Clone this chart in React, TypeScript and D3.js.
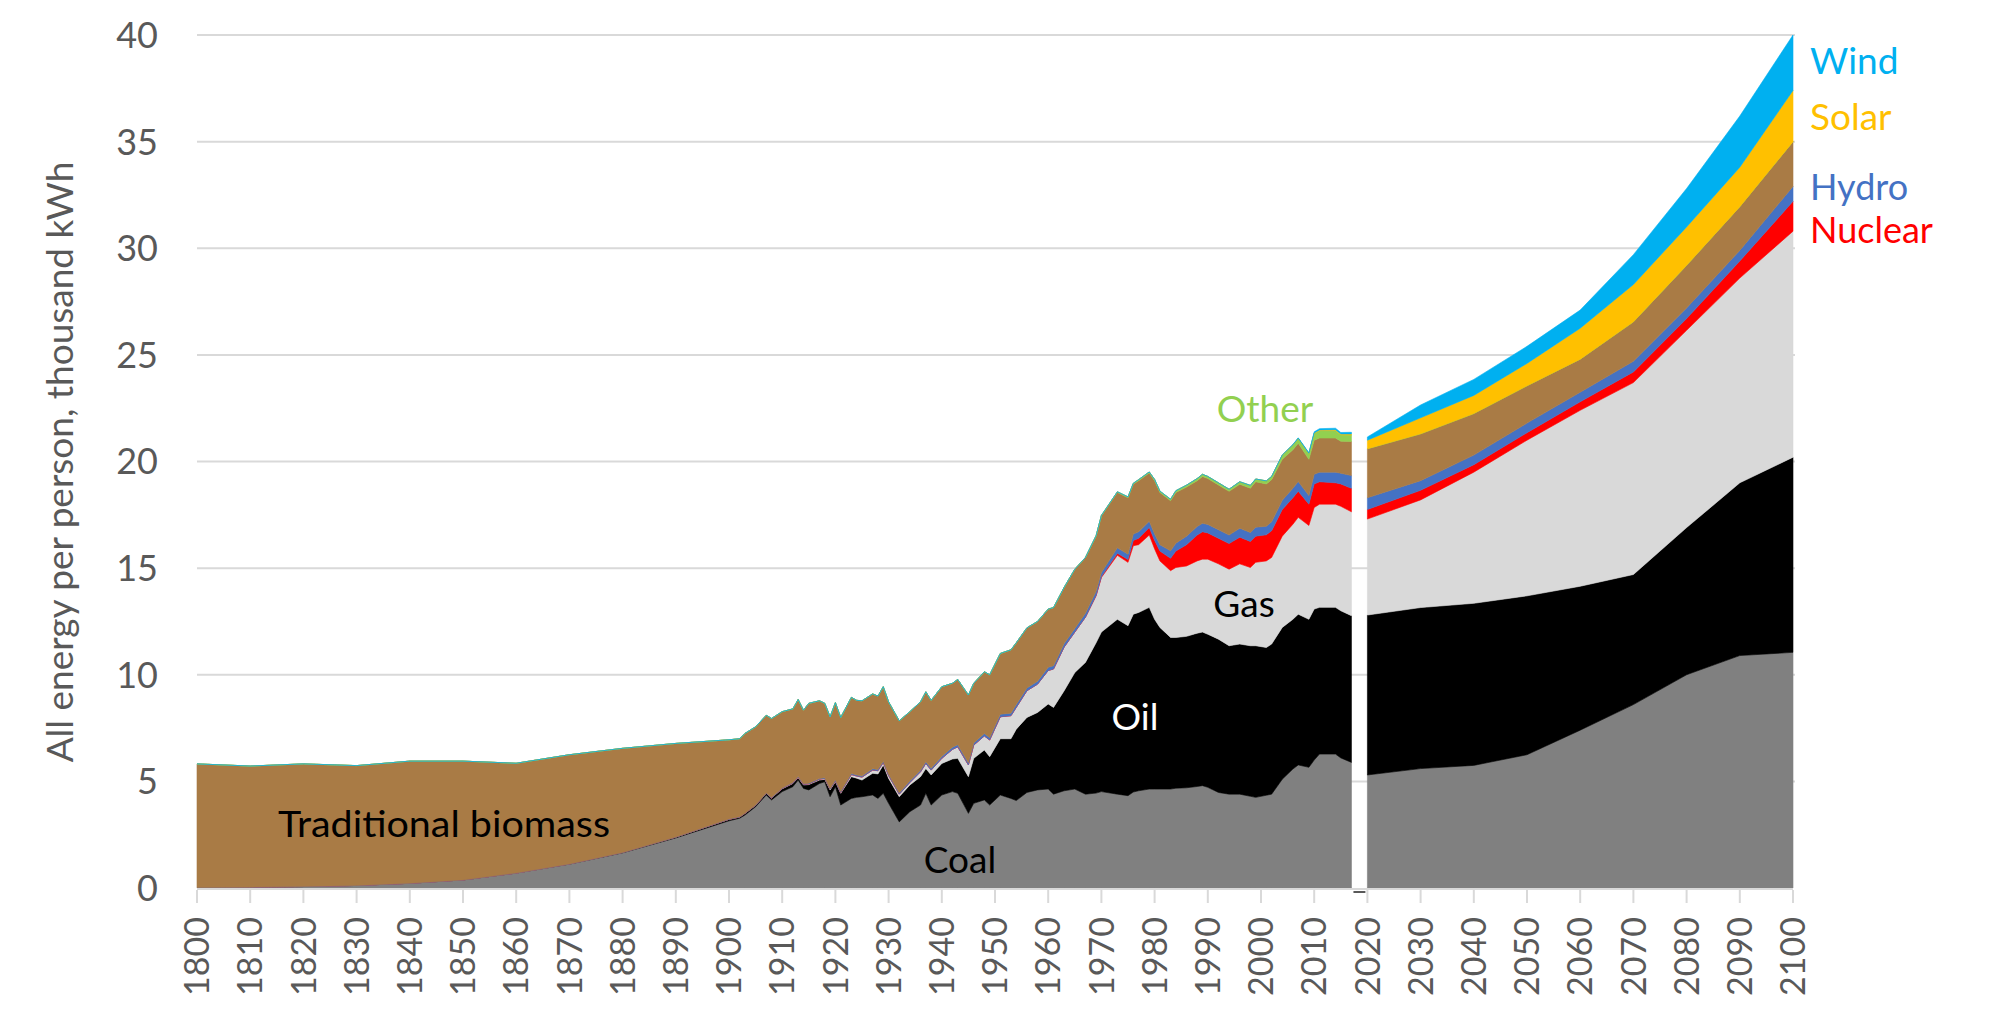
import React from "react";
import * as d3 from "d3";

// ---------- Historic data (thousand kWh per person) ----------
const histYears = [
  1800, 1810, 1820, 1830, 1840, 1850, 1860, 1870, 1880, 1890,
  1900, 1902, 1903, 1905, 1907, 1908, 1910, 1912, 1913, 1914,
  1915, 1917, 1918, 1919, 1920, 1921, 1923, 1924, 1925, 1927,
  1928, 1929, 1930, 1932, 1934, 1936, 1937, 1938, 1940, 1942,
  1943, 1945, 1946, 1948, 1949, 1951, 1953, 1954, 1956, 1958,
  1960, 1961, 1963, 1965, 1967, 1969, 1970, 1973, 1975, 1976,
  1977, 1979, 1980, 1981, 1983, 1984, 1986, 1988, 1989, 1990,
  1992, 1994, 1996, 1998, 1999, 2001, 2002, 2004, 2006, 2007,
  2009, 2010, 2011, 2014, 2015, 2017,
];
const histCoal = [
  0.02, 0.04, 0.07, 0.12, 0.22, 0.38, 0.7, 1.12, 1.65, 2.35,
  3.15, 3.27, 3.42, 3.81, 4.36, 4.13, 4.52, 4.75, 5.06, 4.67,
  4.6, 4.9, 4.98, 4.28, 4.75, 3.89, 4.2, 4.25, 4.28, 4.36,
  4.2, 4.44, 3.97, 3.1, 3.58, 3.89, 4.44, 3.89, 4.36, 4.52,
  4.44, 3.5, 3.97, 4.13, 3.89, 4.36, 4.2, 4.1, 4.48, 4.6,
  4.64, 4.4, 4.56, 4.64, 4.4, 4.45, 4.52, 4.4, 4.33, 4.5,
  4.56, 4.64, 4.64, 4.64, 4.64, 4.68, 4.7, 4.76, 4.8, 4.72,
  4.48, 4.4, 4.4, 4.3, 4.25, 4.35, 4.4, 5.1, 5.58, 5.77,
  5.66, 6.0, 6.28, 6.28, 6.1, 5.89,
];
const histOil = [
  0, 0, 0, 0, 0, 0, 0, 0.01, 0.02, 0.04,
  0.07, 0.06, 0.08, 0.07, 0.08, 0.09, 0.13, 0.15, 0.11, 0.16,
  0.25, 0.16, 0.12, 0.32, 0.23, 0.55, 1.02, 0.9, 0.78, 1.02,
  1.15, 1.33, 1.17, 1.18, 1.25, 1.33, 1.16, 1.41, 1.48, 1.53,
  1.64, 1.72, 2.11, 2.34, 2.27, 2.64, 2.8, 3.35, 3.52, 3.63,
  3.99, 4.07, 4.69, 5.46, 6.18, 7.05, 7.48, 8.2, 7.97, 8.34,
  8.36, 8.52, 7.96, 7.58, 7.11, 7.07, 7.1, 7.19, 7.2, 7.18,
  7.19, 6.96, 7.04, 7.06, 7.11, 6.93, 7.04, 7.12, 7.02, 7.07,
  6.94, 7.08, 6.88, 6.88, 6.9, 6.88,
];
const histGas = [
  0, 0, 0, 0, 0, 0, 0, 0, 0, 0,
  0, 0, 0, 0, 0, 0, 0.02, 0.02, 0.03, 0.03,
  0.03, 0.04, 0.04, 0.04, 0.04, 0.04, 0.1, 0.1, 0.14, 0.15,
  0.15, 0.11, 0.13, 0.12, 0.12, 0.23, 0.24, 0.23, 0.24, 0.45,
  0.54, 0.55, 0.62, 0.66, 0.78, 1.03, 1.08, 1.02, 1.25, 1.33,
  1.57, 1.8, 2.05, 1.9, 2.12, 2.2, 2.56, 3.0, 2.97, 3.21,
  3.18, 3.39, 3.3, 3.12, 3.13, 3.28, 3.3, 3.39, 3.42, 3.52,
  3.53, 3.59, 3.76, 3.67, 3.91, 4.06, 4.06, 4.28, 4.46, 4.54,
  4.4, 4.76, 4.84, 4.84, 4.9, 4.87,
];
const histNuclear = [
  0, 0, 0, 0, 0, 0, 0, 0, 0, 0,
  0, 0, 0, 0, 0, 0, 0, 0, 0, 0,
  0, 0, 0, 0, 0, 0, 0, 0, 0, 0,
  0, 0, 0, 0, 0, 0, 0, 0, 0, 0,
  0, 0, 0, 0, 0, 0, 0, 0, 0, 0,
  0, 0, 0, 0, 0, 0.02, 0.04, 0.1, 0.13, 0.25,
  0.3, 0.35, 0.4, 0.46, 0.58, 0.77, 1.0, 1.21, 1.28, 1.23,
  1.2, 1.2, 1.25, 1.22, 1.23, 1.22, 1.25, 1.25, 1.24, 1.23,
  1.0, 1.11, 1.05, 1.0, 1.05, 1.1,
];
const histHydro = [
  0, 0, 0, 0, 0, 0, 0, 0, 0, 0,
  0.01, 0.01, 0.01, 0.01, 0.02, 0.02, 0.02, 0.03, 0.03, 0.03,
  0.03, 0.03, 0.03, 0.03, 0.04, 0.04, 0.05, 0.05, 0.05, 0.06,
  0.06, 0.06, 0.06, 0.06, 0.07, 0.07, 0.08, 0.08, 0.09, 0.1,
  0.1, 0.1, 0.1, 0.11, 0.11, 0.12, 0.12, 0.13, 0.13, 0.14,
  0.15, 0.15, 0.16, 0.17, 0.18, 0.19, 0.2, 0.25, 0.25, 0.3,
  0.3, 0.3, 0.3, 0.3, 0.35, 0.37, 0.4, 0.4, 0.4, 0.4,
  0.4, 0.4, 0.42, 0.42, 0.42, 0.4, 0.42, 0.43, 0.45, 0.45,
  0.4, 0.45, 0.45, 0.5, 0.5, 0.6,
];
const histBiomass = [
  5.8, 5.68, 5.75, 5.62, 5.73, 5.57, 5.15, 5.12, 4.88, 4.39,
  3.72, 3.66, 3.74, 3.67, 3.64, 3.71, 3.58, 3.45, 3.61, 3.45,
  3.75, 3.65, 3.49, 3.36, 3.63, 3.48, 3.57, 3.5, 3.53, 3.51,
  3.44, 3.5, 3.4, 3.38, 3.25, 3.21, 3.28, 3.19, 3.27, 3.0,
  3.06, 3.18, 2.8, 2.9, 2.95, 2.85, 2.97, 2.9, 2.82, 2.8,
  2.73, 2.73, 2.64, 2.78, 2.62, 2.59, 2.65, 2.6, 2.65, 2.34,
  2.4, 2.26, 2.5, 2.45, 2.35, 2.38, 2.3, 2.15, 2.2, 2.15,
  2.1, 2.05, 2.06, 2.08, 2.13, 1.99, 1.98, 1.92, 1.8, 1.8,
  1.7, 1.6, 1.6, 1.6, 1.5, 1.6,
];
const histOther = [
  0, 0, 0, 0, 0, 0, 0, 0, 0, 0,
  0, 0, 0, 0, 0, 0, 0, 0, 0, 0,
  0, 0, 0, 0, 0, 0, 0, 0, 0, 0,
  0, 0, 0, 0, 0, 0, 0, 0, 0, 0,
  0, 0, 0, 0, 0, 0, 0, 0, 0, 0,
  0, 0, 0, 0, 0, 0.02, 0.02, 0.03, 0.04, 0.04,
  0.05, 0.05, 0.06, 0.06, 0.07, 0.08, 0.09, 0.1, 0.1, 0.1,
  0.1, 0.1, 0.12, 0.13, 0.13, 0.14, 0.15, 0.2, 0.23, 0.23,
  0.27, 0.32, 0.35, 0.35, 0.3, 0.3,
];
const histSolar = [
  0, 0, 0, 0, 0, 0, 0, 0, 0, 0,
  0, 0, 0, 0, 0, 0, 0, 0, 0, 0,
  0, 0, 0, 0, 0, 0, 0, 0, 0, 0,
  0, 0, 0, 0, 0, 0, 0, 0, 0, 0,
  0, 0, 0, 0, 0, 0, 0, 0, 0, 0,
  0, 0, 0, 0, 0, 0, 0, 0, 0, 0,
  0, 0, 0, 0, 0, 0, 0, 0, 0, 0,
  0, 0, 0, 0, 0, 0, 0, 0, 0, 0,
  0.01, 0.02, 0.03, 0.04, 0.04, 0.05,
];
const histWind = [
  0, 0, 0, 0, 0, 0, 0, 0, 0, 0,
  0, 0, 0, 0, 0, 0, 0, 0, 0, 0,
  0, 0, 0, 0, 0, 0, 0, 0, 0, 0,
  0, 0, 0, 0, 0, 0, 0, 0, 0, 0,
  0, 0, 0, 0, 0, 0, 0, 0, 0, 0,
  0, 0, 0, 0, 0, 0, 0, 0, 0, 0,
  0, 0, 0, 0, 0, 0, 0, 0, 0, 0,
  0, 0, 0, 0, 0, 0, 0, 0.01, 0.02, 0.02,
  0.03, 0.05, 0.06, 0.07, 0.07, 0.08,
];

// ---------- Projection data ----------
const futYears = [2020, 2030, 2040, 2050, 2060, 2070, 2080, 2090, 2100];
const futCoal = [5.3, 5.6, 5.75, 6.25, 7.4, 8.6, 10.0, 10.9, 11.05];
const futOil = [7.5, 7.55, 7.6, 7.45, 6.75, 6.1, 6.9, 8.1, 9.15];
const futGas = [4.5, 5.05, 6.15, 7.3, 8.25, 9.0, 9.25, 9.6, 10.6];
const futNuclear = [0.45, 0.45, 0.35, 0.35, 0.4, 0.5, 0.55, 0.8, 1.4];
const futHydro = [0.55, 0.45, 0.45, 0.45, 0.45, 0.5, 0.5, 0.5, 0.7];
const futBiomass = [2.3, 2.2, 1.95, 1.75, 1.55, 1.85, 2.0, 2.05, 2.1];
const futOther = [0, 0, 0, 0, 0, 0, 0, 0, 0];
const futSolar = [0.4, 0.75, 0.85, 1.05, 1.45, 1.75, 1.8, 1.85, 2.4];
const futWind = [0.15, 0.6, 0.75, 0.8, 0.85, 1.4, 1.8, 2.4, 2.6];

// ---------- Series definitions ----------
const seriesKeys = ["coal", "oil", "gas", "nuclear", "hydro", "biomass", "other", "solar", "wind"];
const seriesColors: Record<string, string> = {
  coal: "#808080",
  oil: "#000000",
  gas: "#d9d9d9",
  nuclear: "#ff0000",
  hydro: "#4472c4",
  biomass: "#a97b45",
  other: "#92d050",
  solar: "#ffc000",
  wind: "#00b0f0",
};

const yTicks = [0, 5, 10, 15, 20, 25, 30, 35, 40];
const xTicks = d3.range(1800, 2101, 10);

const FONT = "Lato, 'Open Sans', sans-serif";
const W = 2000;
const H = 1027;

type Row = { year: number; [k: string]: number };

function buildRows(years: number[], cols: Record<string, number[]>): Row[] {
  return years.map((year, i) => {
    const r: Row = { year };
    for (const k of seriesKeys) r[k] = cols[k][i] ?? 0;
    return r;
  });
}

const histRows = buildRows(histYears, {
  coal: histCoal, oil: histOil, gas: histGas, nuclear: histNuclear, hydro: histHydro,
  biomass: histBiomass, other: histOther, solar: histSolar, wind: histWind,
});
const futRows = buildRows(futYears, {
  coal: futCoal, oil: futOil, gas: futGas, nuclear: futNuclear, hydro: futHydro,
  biomass: futBiomass, other: futOther, solar: futSolar, wind: futWind,
});

export default function App() {
  const x = d3.scaleLinear().domain([1800, 2100]).range([197, 1793]);
  const y = d3.scaleLinear().domain([0, 40]).range([888, 35]);

  const stack = d3.stack<Row>().keys(seriesKeys);
  const histStack = stack(histRows);
  const futStack = stack(futRows);

  const area = d3
    .area<d3.SeriesPoint<Row>>()
    .x((d) => x(d.data.year))
    .y0((d) => y(d[0]))
    .y1((d) => y(d[1]));

  const tickColor = "#595959";

  return (
    <svg
      width={W}
      height={H}
      style={{ position: "absolute", left: 0, top: 0, display: "block", background: "#fff" }}
      fontFamily={FONT}
    >
      {/* gridlines */}
      {yTicks
        .filter((t) => t > 0)
        .map((t) => (
          <line key={"g" + t} x1={x(1800)} x2={x(2100) + 2} y1={y(t)} y2={y(t)} stroke="#d9d9d9" strokeWidth={2} />
        ))}

      {/* areas */}
      {histStack.map((s) => (
        <path
          key={"h" + s.key}
          d={area(s) || ""}
          fill={seriesColors[s.key]}
          stroke={seriesColors[s.key]}
          strokeWidth={0.6}
          strokeLinejoin="round"
        />
      ))}
      {futStack.map((s) => (
        <path
          key={"f" + s.key}
          d={area(s) || ""}
          fill={seriesColors[s.key]}
          stroke={seriesColors[s.key]}
          strokeWidth={0.6}
          strokeLinejoin="round"
        />
      ))}

      {/* x axis line and ticks */}
      <line x1={x(1800)} x2={x(2100)} y1={y(0) + 1} y2={y(0) + 1} stroke="#d9d9d9" strokeWidth={2} />
      <line x1={x(2017) + 2} x2={x(2020) - 2} y1={y(0) + 4} y2={y(0) + 4} stroke="#595959" strokeWidth={2} />
      {xTicks.map((t) => (
        <line key={"t" + t} x1={x(t)} x2={x(t)} y1={y(0) + 2} y2={y(0) + 15} stroke="#d9d9d9" strokeWidth={2} />
      ))}
      {xTicks.map((t) => (
        <text
          key={"xl" + t}
          transform={`translate(${x(t)},${y(0) + 29}) rotate(-90)`}
          textAnchor="end"
          dy="0.36em"
          fontSize={34}
          fill={tickColor}
        >
          {t}
        </text>
      ))}

      {/* y axis labels */}
      {yTicks.map((t) => (
        <text key={"yl" + t} x={158} y={y(t)} dy="0.36em" textAnchor="end" fontSize={36} fill={tickColor}>
          {t}
        </text>
      ))}

      {/* axis title */}
      <text
        transform={`translate(60,462) rotate(-90)`}
        textAnchor="middle"
        dy="0.36em"
        fontSize={37}
        fill={tickColor}
      >
        All energy per person, thousand kWh
      </text>

      {/* series labels */}
      <text x={278} y={837} fontSize={37} fill="#000" textLength={332} lengthAdjust="spacingAndGlyphs">
        Traditional biomass
      </text>
      <text x={960} y={873} fontSize={37} fill="#000" textAnchor="middle">Coal</text>
      <text x={1135} y={730} fontSize={37} fill="#fff" textAnchor="middle">Oil</text>
      <text x={1244} y={617} fontSize={37} fill="#000" textAnchor="middle">Gas</text>
      <text x={1265} y={422} fontSize={37} fill={seriesColors.other} textAnchor="middle">Other</text>
      <text x={1810} y={74} fontSize={37} fill={seriesColors.wind}>Wind</text>
      <text x={1810} y={130} fontSize={37} fill={seriesColors.solar}>Solar</text>
      <text x={1810} y={200} fontSize={36} fill={seriesColors.hydro}>Hydro</text>
      <text x={1810} y={243} fontSize={36} fill={seriesColors.nuclear}>Nuclear</text>
    </svg>
  );
}
